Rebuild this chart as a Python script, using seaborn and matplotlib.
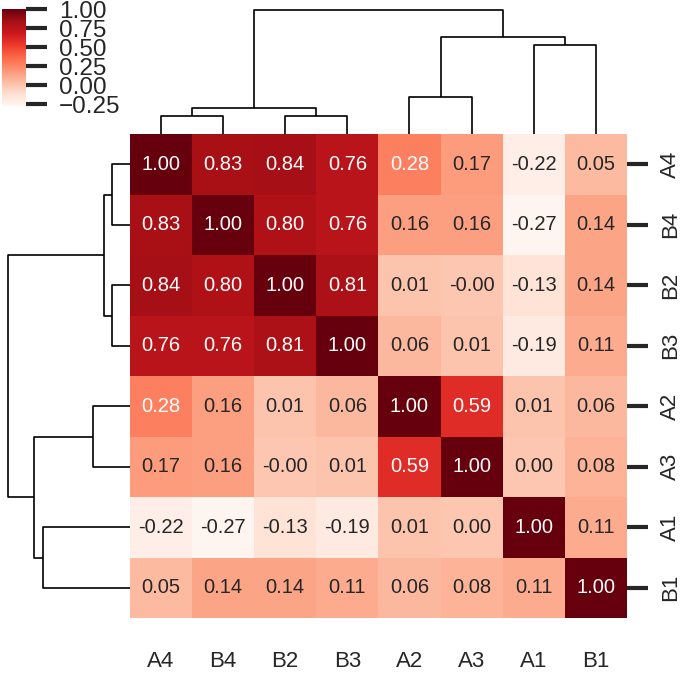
import numpy as np
import pandas as pd
import matplotlib
matplotlib.use("Agg")
import matplotlib.pyplot as plt
from matplotlib.ticker import FuncFormatter
import seaborn as sns

sns.set_style("white")
plt.rcParams["font.family"] = ["Liberation Sans", "DejaVu Sans"]

labels = ["A1", "A2", "A3", "A4", "B1", "B2", "B3", "B4"]

# correlation rows in label order
a1 = [1.00, 0.01, 0.00, -0.22, 0.11, -0.13, -0.19, -0.27]
a2 = [0.01, 1.00, 0.59, 0.28, 0.06, 0.01, 0.06, 0.16]
a3 = [0.00, 0.59, 1.00, 0.17, 0.08, -0.00, 0.01, 0.16]
a4 = [-0.22, 0.28, 0.17, 1.00, 0.05, 0.84, 0.76, 0.83]
b1 = [0.11, 0.06, 0.08, 0.05, 1.00, 0.14, 0.11, 0.14]
b2 = [-0.13, 0.01, -0.00, 0.84, 0.14, 1.00, 0.81, 0.80]
b3 = [-0.19, 0.06, 0.01, 0.76, 0.11, 0.81, 1.00, 0.76]
b4 = [-0.27, 0.16, 0.16, 0.83, 0.14, 0.80, 0.76, 1.00]

cbar_ticks = [-0.25, 0.00, 0.25, 0.50, 0.75, 1.00]

corr = pd.DataFrame([a1, a2, a3, a4, b1, b2, b3, b4], index=labels, columns=labels)

fmt_minus = FuncFormatter(lambda v, pos: f"{v:.2f}".replace("-", "\u2212"))

g = sns.clustermap(corr, cmap="Reds", annot=True, fmt=".2f",
                   annot_kws={"size": 14.5},
                   figsize=(6.8, 6.73),
                   cbar_kws={"ticks": cbar_ticks, "format": fmt_minus})

g.ax_heatmap.set_position([0.191, 0.0817, 0.731, 0.719])
g.ax_row_dendrogram.set_position([0.003, 0.0817, 0.188, 0.719])
g.ax_col_dendrogram.set_position([0.191, 0.8007, 0.731, 0.193])
g.ax_cbar.set_position([0.003, 0.8425, 0.035, 0.144])

for dax in (g.ax_row_dendrogram, g.ax_col_dendrogram):
    for coll in dax.collections:
        coll.set_linewidth(1.2)
        coll.set_color("black")

ax = g.ax_heatmap
ax.set_xlabel("")
ax.set_ylabel("")
ax.tick_params(axis="x", labelsize=16, length=0, pad=24)
ax.tick_params(axis="y", labelsize=16, length=15, width=3, pad=9)
plt.setp(ax.get_yticklabels(), rotation=90, va="center")
plt.setp(ax.get_xticklabels(), rotation=0)

cax = g.ax_cbar
cax.tick_params(labelsize=17.5, length=15, width=3, pad=9)
for sp in cax.spines.values():
    sp.set_visible(False)

plt.savefig("out.png", dpi=100)
